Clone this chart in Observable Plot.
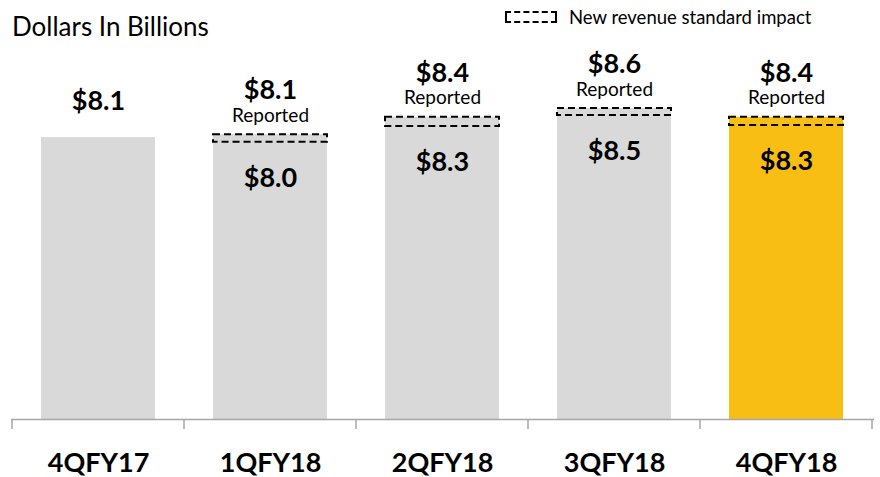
<!DOCTYPE html>
<html>
<head>
<meta charset="utf-8">
<script src="https://cdn.jsdelivr.net/npm/d3@7"></script>
<script src="https://cdn.jsdelivr.net/npm/@observablehq/plot@0.6"></script>
<style>
  body { margin: 0; background: #fff; font-family: Lato, "Open Sans", sans-serif; }
  #wrap { position: relative; width: 880px; height: 477px; overflow: hidden; }
  #title { position: absolute; left: 12px; top: 13px; font-size: 26px; line-height: 1; color: #000; }
  #legend { position: absolute; left: 505px; top: 8px; font-size: 18.5px; line-height: 1; display: flex; align-items: center; }
  #legend .box { display: inline-block; width: 48px; height: 8px; border: 2px dashed #000; margin-right: 12px; }
  #chart { position: absolute; left: 0; top: 0; }
</style>
</head>
<body>
<div id="wrap">
  <div id="chart"></div>
  <div id="title">Dollars In Billions</div>
  <div id="legend"><span class="box"></span><span>New revenue standard impact</span></div>
</div>
<script>
const quarters = ["4QFY17", "1QFY18", "2QFY18", "3QFY18", "4QFY18"];
// revenue under new standard (bar body), and as reported (top of dashed box)
const adjusted = [8.10, 8.02, 8.29, 8.48, 8.31];
const reported = [null, 8.15, 8.45, 8.60, 8.45];
const topLabels = ["$8.1", "$8.1", "$8.4", "$8.6", "$8.4"];
const insideLabels = [null, "$8.0", "$8.3", "$8.5", "$8.3"];
const highlight = [false, false, false, false, true];

const data = quarters.map((q, i) => ({
  q,
  adjusted: adjusted[i],
  reported: reported[i],
  top: reported[i] ?? adjusted[i],
  topLabel: topLabels[i],
  insideLabel: insideLabels[i],
  hl: highlight[i]
}));

const yBase = 3.24;
const font = "Lato, 'Open Sans', sans-serif";

const plot = Plot.plot({
  width: 880,
  height: 477,
  marginLeft: 11,
  marginRight: 6,
  marginTop: 0,
  marginBottom: 58,
  style: { fontFamily: font, background: "transparent", overflow: "visible" },
  x: { domain: quarters, paddingInner: 0.336, paddingOuter: 0.168, label: null },
  y: { domain: [yBase, 10.464], axis: null },
  marks: [
    Plot.barY(data, { x: "q", y1: yBase, y2: "top", fill: d => d.hl ? "#F9BE14" : "#D9D9D9" }),
    Plot.barY(data.filter(d => d.reported != null), {
      x: "q", y1: "adjusted", y2: "reported",
      fill: "none", stroke: "#000", strokeWidth: 2, strokeDasharray: "7,4"
    }),
    Plot.ruleY([yBase], { stroke: "#A6A6A6", strokeWidth: 1.5 }),
    // value label above single bar
    Plot.text(data.filter(d => d.reported == null), {
      x: "q", y: "top", text: "topLabel", dy: -36,
      fontSize: 27, fontWeight: "bold", fill: "#000", lineAnchor: "middle"
    }),
    // reported value + "Reported"
    Plot.text(data.filter(d => d.reported != null), {
      x: "q", y: "top", text: "topLabel", dy: -44,
      fontSize: 27, fontWeight: "bold", fill: "#000", lineAnchor: "middle"
    }),
    Plot.text(data.filter(d => d.reported != null), {
      x: "q", y: "top", text: () => "Reported", dy: -19,
      fontSize: 19, fill: "#000", lineAnchor: "middle"
    }),
    // value under new standard
    Plot.text(data.filter(d => d.insideLabel != null), {
      x: "q", y: "adjusted", text: "insideLabel", dy: 36,
      fontSize: 27, fontWeight: "bold", fill: "#000", lineAnchor: "middle"
    }),
    Plot.axisX({ tickSize: 0, tickPadding: 33, fontSize: 27, fontWeight: "bold", fill: "#000", label: null })
  ]
});

// category boundary ticks
const xs = plot.scale("x");
const ys = plot.scale("y");
const base = ys.apply(yBase);
const half = (xs.step - xs.bandwidth) / 2;
const bounds = quarters.map(q => xs.apply(q) - half);
bounds.push(xs.apply(quarters[quarters.length - 1]) + xs.bandwidth + half);
d3.select(plot).append("g")
  .selectAll("line").data(bounds).join("line")
  .attr("x1", d => d).attr("x2", d => d)
  .attr("y1", base).attr("y2", base + 10)
  .attr("stroke", "#A6A6A6").attr("stroke-width", 1.5);

document.getElementById("chart").appendChild(plot);
</script>
</body>
</html>
